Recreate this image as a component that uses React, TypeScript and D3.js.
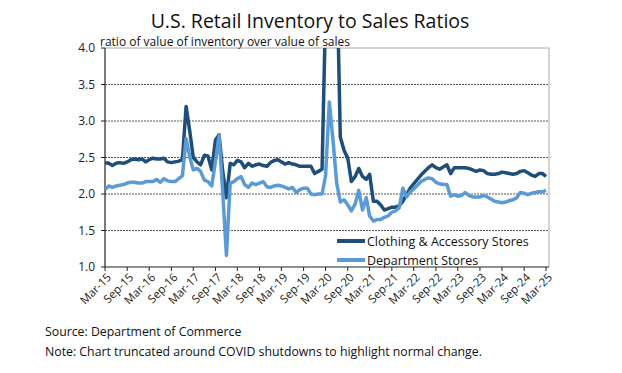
import React from 'react';
import * as d3 from 'd3';

// monthly, Mar-2015 .. Mar-2025
const startMonth = new Date(2015, 2, 1);

const clothing = [
  2.43, 2.42, 2.39, 2.42, 2.43, 2.42, 2.44, 2.47, 2.48, 2.47, 2.48, 2.44,
  2.47, 2.49, 2.48, 2.48, 2.49, 2.44, 2.43, 2.44, 2.45, 2.47, 3.20, 2.85,
  2.50, 2.44, 2.40, 2.53, 2.52, 2.33, 2.74, 2.81, 2.30, 1.95, 2.42, 2.40,
  2.46, 2.44, 2.36, 2.42, 2.38, 2.40, 2.41, 2.39, 2.38, 2.43, 2.46, 2.47,
  2.44, 2.41, 2.43, 2.41, 2.40, 2.38, 2.38, 2.38, 2.38, 2.28, 2.31, 2.34,
  4.50, 8.00, 7.00, 5.20, 2.78, 2.60, 2.49, 2.17, 2.24, 2.35, 2.24, 2.20,
  2.27, 1.90, 1.90, 1.85, 1.78, 1.80, 1.82, 1.82, 1.84, 1.90, 1.99, 2.08,
  2.14, 2.20, 2.26, 2.31, 2.36, 2.40, 2.36, 2.34, 2.37, 2.40, 2.28, 2.36,
  2.36, 2.36, 2.36, 2.35, 2.33, 2.31, 2.33, 2.32, 2.28, 2.27, 2.27, 2.28,
  2.30, 2.29, 2.28, 2.27, 2.28, 2.31, 2.32, 2.29, 2.26, 2.24, 2.28, 2.28,
  2.24,
];

const department = [
  2.06, 2.11, 2.09, 2.11, 2.12, 2.13, 2.15, 2.16, 2.16, 2.15, 2.15, 2.17,
  2.17, 2.17, 2.20, 2.16, 2.21, 2.18, 2.17, 2.17, 2.21, 2.25, 2.76, 2.50,
  2.33, 2.35, 2.31, 2.19, 2.17, 2.11, 2.45, 2.80, 2.00, 1.16, 2.15, 2.17,
  2.21, 2.24, 2.13, 2.09, 2.15, 2.13, 2.15, 2.17, 2.10, 2.09, 2.11, 2.12,
  2.11, 2.09, 2.07, 2.09, 2.02, 2.06, 2.08, 2.08, 2.00, 1.99, 2.00, 2.00,
  2.25, 3.26, 2.75, 2.15, 1.89, 1.92, 1.85, 1.77, 1.86, 2.05, 1.78, 1.95,
  1.70, 1.63, 1.65, 1.65, 1.68, 1.70, 1.75, 1.77, 1.81, 2.08, 1.96, 2.03,
  2.07, 2.12, 2.17, 2.20, 2.22, 2.21, 2.16, 2.14, 2.13, 2.13, 1.97, 1.99,
  1.97, 1.98, 2.02, 1.98, 1.96, 1.96, 1.96, 1.98, 1.96, 1.93, 1.90, 1.89,
  1.88, 1.89, 1.91, 1.92, 1.95, 2.02, 2.01, 1.99, 2.01, 2.02, 2.03, 2.03,
  2.05,
];

const yTicks = [1.0, 1.5, 2.0, 2.5, 3.0, 3.5, 4.0];
const xTickLabels = [
  'Mar-15', 'Sep-15', 'Mar-16', 'Sep-16', 'Mar-17', 'Sep-17', 'Mar-18',
  'Sep-18', 'Mar-19', 'Sep-19', 'Mar-20', 'Sep-20', 'Mar-21', 'Sep-21',
  'Mar-22', 'Sep-22', 'Mar-23', 'Sep-23', 'Mar-24', 'Sep-24', 'Mar-25',
];
const seriesNames = ['Clothing & Accessory Stores', 'Department Stores'];
const colors = ['#1f4e79', '#5b9bd5'];

const font = "'Open Sans', 'Noto Sans', sans-serif";

export default function App() {
  const width = 622;
  const height = 373;
  const left = 105, right = 549, top = 48, bottom = 267;

  const dates = clothing.map((_, i) => d3.timeMonth.offset(startMonth, i));
  const x = d3.scaleTime()
    .domain([startMonth, d3.timeMonth.offset(startMonth, 120)])
    .range([left, 546]);
  const y = d3.scaleLinear().domain([1, 4]).range([bottom, top]);

  const line = d3.line<number>()
    .x((_, i) => x(dates[i]))
    .y(d => y(d));

  const tickDates = xTickLabels.map((_, i) => d3.timeMonth.offset(startMonth, i * 6));

  return (
    <svg width={width} height={height}
      style={{ position: 'absolute', left: 0, top: 0, background: '#fff' }}
      fontFamily={font}>
      <defs>
        <clipPath id="plot">
          <rect x={left} y={top} width={right - left} height={bottom - top + 40} />
        </clipPath>
      </defs>

      <text x={310} y={28} textAnchor="middle" fontSize={19.5} fill="#111">
        U.S. Retail Inventory to Sales Ratios
      </text>
      <text x={100} y={46} fontSize={12} fill="#111">
        ratio of value of inventory over value of sales
      </text>

      {/* grid */}
      {yTicks.slice(1, -1).map(t => (
        <line key={t} x1={left} x2={right} y1={y(t)} y2={y(t)}
          stroke="#555" strokeWidth={1} strokeDasharray="2,1" />
      ))}
      <line x1={left} x2={right} y1={top} y2={top} stroke="#aaa" />
      <line x1={right} x2={right} y1={top} y2={bottom} stroke="#aaa" />

      {/* y axis */}
      <line x1={left} x2={left} y1={top} y2={bottom} stroke="#222" strokeWidth={1.2} />
      {yTicks.map(t => (
        <g key={t}>
          <line x1={left - 4} x2={left} y1={y(t)} y2={y(t)} stroke="#222" />
          <text x={left - 10} y={y(t) + 4} textAnchor="end" fontSize={12} fill="#222">
            {t.toFixed(1)}
          </text>
        </g>
      ))}

      {/* x axis */}
      <line x1={left} x2={right} y1={bottom} y2={bottom} stroke="#222" strokeWidth={1.2} />
      {tickDates.map((d, i) => (
        <g key={i}>
          <line x1={x(d)} x2={x(d)} y1={bottom} y2={bottom + 4} stroke="#222" />
          <text transform={`translate(${x(d) + 7},${bottom + 11}) rotate(-45)`}
            textAnchor="end" fontSize={11.5} fill="#222">
            {xTickLabels[i]}
          </text>
        </g>
      ))}

      {/* series */}
      <g clipPath="url(#plot)" fill="none" strokeWidth={3.5} strokeLinejoin="round">
        <path d={line(clothing) ?? ''} stroke={colors[0]} />
        <path d={line(department) ?? ''} stroke={colors[1]} />
      </g>

      {/* legend */}
      {seriesNames.map((name, i) => (
        <g key={name} transform={`translate(337,${241 + i * 19})`}>
          <line x1={0} x2={28} y1={0} y2={0} stroke={colors[i]} strokeWidth={4} />
          <text x={30} y={4.5} fontSize={12.5} fill="#111">{name}</text>
        </g>
      ))}

      <text x={45} y={336} fontSize={12.3} fill="#111">Source: Department of Commerce</text>
      <text x={45} y={356} fontSize={12.3} fill="#111">
        Note: Chart truncated around COVID shutdowns to highlight normal change.
      </text>
    </svg>
  );
}
